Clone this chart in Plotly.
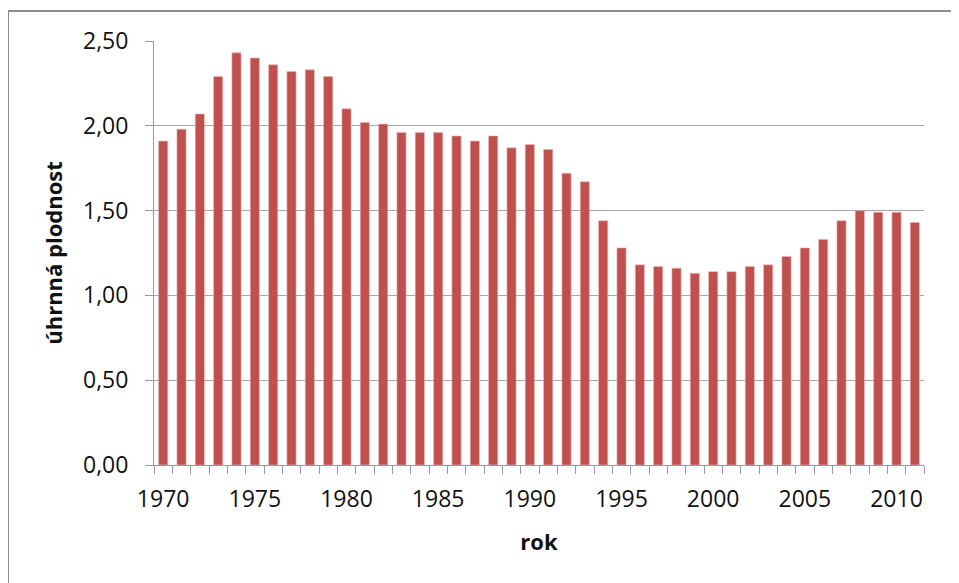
import plotly.graph_objects as go

years = list(range(1970, 2012))
tfr = [1.91, 1.98, 2.07, 2.29, 2.43, 2.40, 2.36, 2.32, 2.33, 2.29,
       2.10, 2.02, 2.01, 1.96, 1.96, 1.96, 1.94, 1.91, 1.94, 1.87,
       1.89, 1.86, 1.72, 1.67, 1.44, 1.28, 1.18, 1.17, 1.16, 1.13,
       1.14, 1.14, 1.17, 1.18, 1.23, 1.28, 1.33, 1.44, 1.50, 1.49,
       1.49, 1.43]
x_tick_vals = [1970, 1975, 1980, 1985, 1990, 1995, 2000, 2005, 2010]
y_tick_vals = [0, 0.5, 1.0, 1.5, 2.0, 2.5]
y_tick_text = ["0,00", "0,50", "1,00", "1,50", "2,00", "2,50"]

W, H = 959, 583
OFF = 8  # page body margin
L, R, T, B = 154 - OFF, 35 + OFF, 41 - OFF, 118 + OFF
pw, ph = W - L - R, H - T - B

fig = go.Figure(go.Bar(
    x=years, y=tfr,
    marker=dict(color="#C0504D", line=dict(color="#E6B9B8", width=0.6)),
    width=0.5,
))

font = "Open Sans, Lato, sans-serif"
fig.update_layout(
    width=W, height=H,
    margin=dict(l=L, r=R, t=T, b=B),
    paper_bgcolor="white", plot_bgcolor="white",
    showlegend=False,
    font=dict(family=font, size=23, color="#111111"),
    xaxis=dict(
        range=[1969.5, 2011.5],
        tickvals=x_tick_vals,
        ticktext=[str(v) for v in x_tick_vals],
        ticks="outside", ticklen=8, tickcolor="rgba(0,0,0,0)",
        minor=dict(tick0=1969.5, dtick=1, ticks="outside", ticklen=8,
                   tickcolor="#999999", tickwidth=1, showgrid=False),
        showline=True, linecolor="#999999", linewidth=1,
        showgrid=False, zeroline=False,
        tickfont=dict(size=23),
        ticklabelstandoff=5,
        title=dict(text="<b>rok</b>", font=dict(size=22), standoff=22),
    ),
    yaxis=dict(
        range=[0, 2.5],
        tickvals=y_tick_vals, ticktext=y_tick_text,
        ticks="outside", ticklen=8, tickcolor="#999999",
        showline=True, linecolor="#999999", linewidth=1,
        showgrid=True, gridcolor="#A6A6A6", gridwidth=1,
        zeroline=False,
        tickfont=dict(size=23),
        ticklabelstandoff=12,
        title=dict(text="<b>úhrnná plodnost</b>", font=dict(size=22), standoff=14),
    ),
)

fig.add_shape(
    type="rect", xref="paper", yref="paper",
    x0=(0 - L) / pw, x1=(W + 5 - L) / pw,
    y0=-(H + 5 - T - ph) / ph, y1=(T + ph - 3) / ph,
    line=dict(color="#8C8C8C", width=2), fillcolor="rgba(0,0,0,0)",
    layer="below",
)

fig.write_html("out.html")
